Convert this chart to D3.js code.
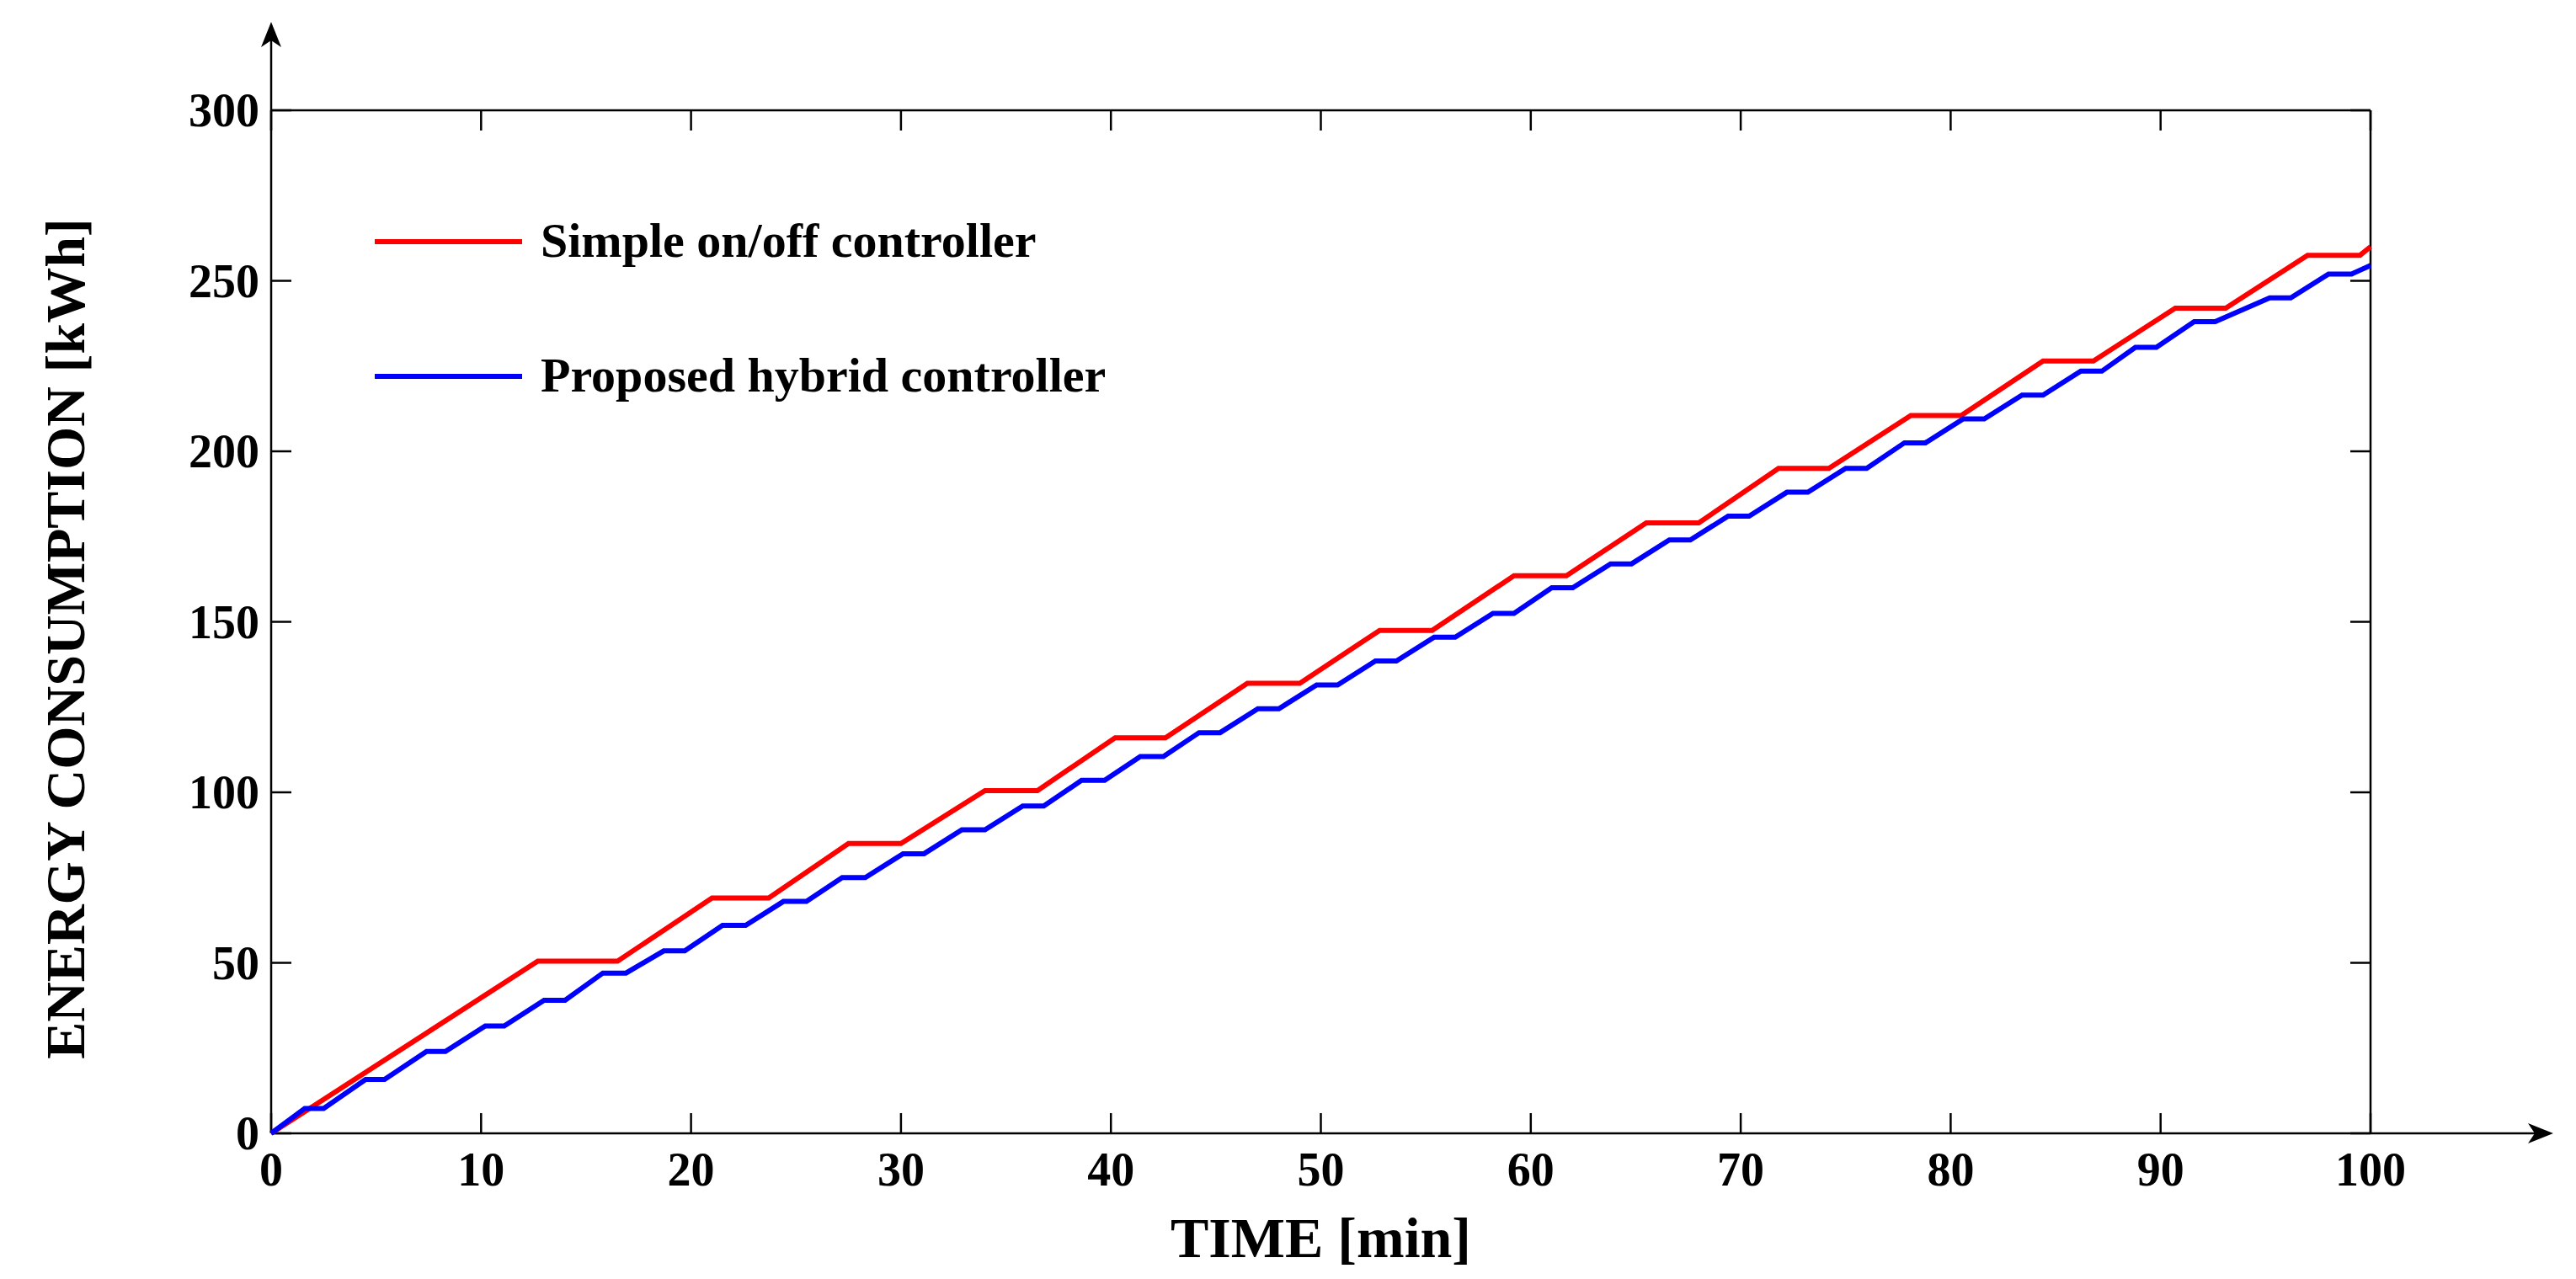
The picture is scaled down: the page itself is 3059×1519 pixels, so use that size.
<!DOCTYPE html>
<html><head><meta charset="utf-8">
<script src="https://cdn.jsdelivr.net/npm/d3@7"></script>
<style>body{margin:0;background:#fff}text{font-family:"Liberation Serif","Times New Roman",serif;font-weight:bold}</style>
</head><body>
<script>
// values: [time min, energy kWh]
var redSeries = [[0,0],[12.7,50.5],[16.5,50.5],[21,69],[23.7,69],[27.5,85],[30,85],[34,100.5],[36.5,100.5],
  [40.2,116],[42.6,116],[46.5,132],[49,132],[52.8,147.5],[55.3,147.5],[59.2,163.5],[61.7,163.5],[65.5,179],
  [68,179],[71.8,195],[74.2,195],[78.1,210.5],[80.5,210.5],[84.4,226.5],[86.8,226.5],[90.7,242],[93.1,242],
  [97,257.5],[99.5,257.5],[100,260]];
var blueSeries = [[0,0],[1.6,7.3],[2.5,7.3],[4.5,15.8],[5.4,15.8],[7.4,24],[8.3,24],[10.2,31.5],[11.1,31.5],
  [13,39],[14,39],[15.8,47],[16.9,47],[18.7,53.5],[19.7,53.5],[21.5,61],[22.6,61],[24.4,68],[25.5,68],
  [27.2,75],[28.3,75],[30.1,82],[31.1,82],[32.9,89],[34,89],[35.8,96],[36.8,96],[38.6,103.5],[39.7,103.5],
  [41.4,110.5],[42.5,110.5],[44.2,117.5],[45.2,117.5],[47,124.5],[48,124.5],[49.8,131.5],[50.8,131.5],
  [52.6,138.5],[53.6,138.5],[55.4,145.5],[56.4,145.5],[58.2,152.5],[59.2,152.5],[61,160],[62,160],
  [63.8,167],[64.8,167],[66.6,174],[67.6,174],[69.4,181],[70.4,181],[72.2,188],[73.2,188],[75,195],[76,195],
  [77.8,202.5],[78.8,202.5],[80.6,209.5],[81.6,209.5],[83.4,216.5],[84.4,216.5],[86.2,223.5],[87.2,223.5],
  [88.8,230.5],[89.8,230.5],[91.6,238],[92.6,238],[95.2,245],[96.2,245],[98,252],[99.1,252],[100,254.5]];
var xTicks = [0,10,20,30,40,50,60,70,80,90,100];
var yTicks = [0,50,100,150,200,250,300];
var legendLabels = ['Simple on/off controller','Proposed hybrid controller'];
var colors = ['#ff0000','#0000ff'];

var W = 3059, H = 1519;
var mLeft = 322, mRight = 2815, mTop = 131, mBottom = 1346;
var svg = d3.select('body').append('svg').attr('width', W).attr('height', H);
var x = d3.scaleLinear().domain([0,100]).range([mLeft,mRight]);
var y = d3.scaleLinear().domain([0,300]).range([mBottom,mTop]);

// inner ticks on all four sides
var ax = svg.append('g').attr('stroke','#000').attr('stroke-width',2.5);
xTicks.forEach(function(t){
  ax.append('line').attr('x1',x(t)).attr('x2',x(t)).attr('y1',mBottom).attr('y2',mBottom-24);
  ax.append('line').attr('x1',x(t)).attr('x2',x(t)).attr('y1',mTop).attr('y2',mTop+24);
});
yTicks.forEach(function(t){
  ax.append('line').attr('x1',mLeft).attr('x2',mLeft+24).attr('y1',y(t)).attr('y2',y(t));
  ax.append('line').attr('x1',mRight).attr('x2',mRight-24).attr('y1',y(t)).attr('y2',y(t));
});
ax.append('line').attr('x1',mLeft).attr('x2',mRight).attr('y1',mTop).attr('y2',mTop);
ax.append('line').attr('x1',mRight).attr('x2',mRight).attr('y1',mTop).attr('y2',mBottom);
ax.append('line').attr('x1',mLeft).attr('x2',3020).attr('y1',mBottom).attr('y2',mBottom);
ax.append('line').attr('x1',mLeft).attr('x2',mLeft).attr('y1',mBottom).attr('y2',36);
svg.append('path').attr('d','M3032,'+mBottom+' l-30,-12 l8,12 l-8,12 z').attr('fill','#000');
svg.append('path').attr('d','M'+mLeft+',26 l-12,30 l12,-8 l12,8 z').attr('fill','#000');

svg.selectAll('text.xt').data(xTicks).enter().append('text')
  .attr('x',function(d){return x(d);}).attr('y',mBottom+62).attr('text-anchor','middle')
  .attr('font-size',56).text(function(d){return d;});
svg.selectAll('text.yt').data(yTicks).enter().append('text')
  .attr('x',mLeft-14).attr('y',function(d){return y(d)+19;}).attr('text-anchor','end')
  .attr('font-size',56).text(function(d){return d;});
svg.append('text').attr('x',x(50)).attr('y',1493).attr('text-anchor','middle')
  .attr('font-size',68).text('TIME [min]');
svg.append('text').attr('transform','translate(100,'+((mTop+mBottom)/2+20)+') rotate(-90)')
  .attr('text-anchor','middle').attr('font-size',66).text('ENERGY CONSUMPTION [kWh]');

var line = d3.line().x(function(d){return x(d[0]);}).y(function(d){return y(d[1]);});
[redSeries, blueSeries].forEach(function(s,i){
  svg.append('path').datum(s).attr('d',line).attr('fill','none')
    .attr('stroke',colors[i]).attr('stroke-width',6);
});

var lg = svg.selectAll('g.leg').data(legendLabels).enter().append('g')
  .attr('transform',function(d,i){return 'translate(445,'+(287+i*160)+')';});
lg.append('line').attr('x1',0).attr('x2',175).attr('stroke',function(d,i){return colors[i];}).attr('stroke-width',6);
lg.append('text').attr('x',197).attr('y',18).attr('font-size',58).text(function(d){return d;});
</script>
</body></html>
